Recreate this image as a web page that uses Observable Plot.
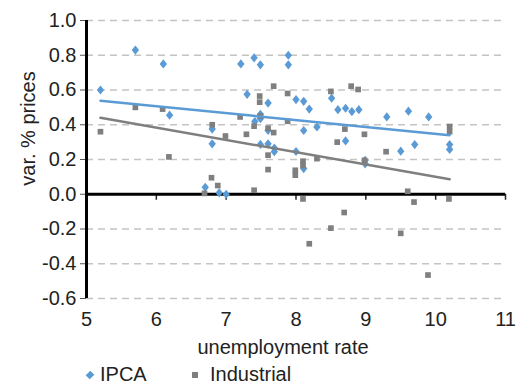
<!DOCTYPE html>
<html><head><meta charset="utf-8">
<script src="https://cdn.jsdelivr.net/npm/d3@7"></script>
<script src="https://cdn.jsdelivr.net/npm/@observablehq/plot@0.6"></script>
<style>
body{margin:0;background:#fff;font-family:"Liberation Sans",Arial,sans-serif;}
#wrap{position:relative;width:522px;height:385px;overflow:hidden;}
#legend{position:absolute;left:0;top:0;width:522px;height:385px;font-size:20px;line-height:16px;color:#222;pointer-events:none;}
#legend span{position:absolute;white-space:nowrap;}
</style></head>
<body><div id="wrap"><div id="chart"></div><div id="legend"></div></div>
<script>
const seriesNames = ["IPCA", "Industrial"];
const xLabel = "unemployment rate";
const yLabel = "var. % prices";
const xTicks = [5, 6, 7, 8, 9, 10, 11];
const yTicks = [-0.6, -0.4, -0.2, 0, 0.2, 0.4, 0.6, 0.8, 1.0];

const ipcaX = [5.2, 5.7, 6.1, 6.19, 6.8, 6.8, 6.7, 6.9, 7.0, 7.21, 7.40, 7.49, 7.89, 7.89, 7.30, 7.60, 8.0, 8.11, 8.19, 8.51, 8.60, 8.71, 8.80, 8.90, 7.49, 7.49, 7.41, 7.60, 7.49, 7.60, 7.69, 7.69, 8.11, 8.30, 8.71, 8.0, 8.11, 8.99, 8.99, 9.30, 9.61, 9.90, 9.50, 9.70, 10.2, 10.2];
const ipcaY = [0.60, 0.83, 0.75, 0.455, 0.375, 0.29, 0.04, 0.008, 0.0, 0.75, 0.785, 0.745, 0.80, 0.745, 0.575, 0.525, 0.545, 0.535, 0.49, 0.553, 0.487, 0.495, 0.476, 0.487, 0.46, 0.435, 0.418, 0.367, 0.287, 0.29, 0.266, 0.245, 0.367, 0.387, 0.307, 0.246, 0.148, 0.195, 0.175, 0.445, 0.478, 0.445, 0.248, 0.286, 0.286, 0.258];

const indX = [5.2, 5.7, 6.09, 6.18, 6.8, 6.99, 6.79, 6.88, 6.69, 7.68, 7.88, 7.48, 7.48, 8.50, 8.79, 8.89, 7.20, 7.49, 7.40, 7.29, 7.60, 7.68, 7.88, 8.70, 8.98, 8.59, 7.60, 7.60, 7.99, 7.99, 8.10, 8.10, 8.30, 8.98, 7.40, 8.10, 9.29, 10.2, 10.2, 9.60, 9.69, 10.19, 8.69, 8.50, 8.19, 9.50, 9.89];
const indY = [0.36, 0.50, 0.49, 0.215, 0.40, 0.335, 0.095, 0.05, 0.005, 0.622, 0.58, 0.565, 0.53, 0.592, 0.622, 0.603, 0.445, 0.45, 0.392, 0.345, 0.38, 0.355, 0.42, 0.375, 0.345, 0.30, 0.225, 0.142, 0.11, 0.138, 0.19, 0.165, 0.205, 0.195, 0.023, -0.027, 0.245, 0.39, 0.36, 0.017, -0.045, -0.027, -0.105, -0.195, -0.285, -0.225, -0.465];

const trendX = [5.2, 10.2];
const ipcaTrendY = [0.538, 0.34];
const indTrendY = [0.44, 0.086];

const blue = "#5b9bd5";
const gray = "#7f7f7f";

const ipca = ipcaX.map((x, i) => ({x, y: ipcaY[i]}));
const ind = indX.map((x, i) => ({x, y: indY[i]}));
const ipcaTrend = trendX.map((x, i) => ({x, y: ipcaTrendY[i]}));
const indTrend = trendX.map((x, i) => ({x, y: indTrendY[i]}));

const diamond = {
  draw(ctx, size) {
    const r = Math.sqrt(size / Math.PI);
    const w = r * 0.92, h = r * 1.15;
    ctx.moveTo(0, -h); ctx.lineTo(w, 0); ctx.lineTo(0, h); ctx.lineTo(-w, 0); ctx.closePath();
  }
};

const chart = Plot.plot({
  width: 522, height: 362,
  marginTop: 20, marginBottom: 64, marginLeft: 86, marginRight: 17,
  style: {fontFamily: "'Liberation Sans', Arial, sans-serif", fontSize: "20px", color: "#222", background: "white", overflow: "visible"},
  x: {domain: [5, 11]},
  y: {domain: [-0.6, 1.0]},
  marks: [
    Plot.ruleY(yTicks.filter(d => d !== 0), {stroke: "#c4c4c4", strokeWidth: 1.5, strokeDasharray: "7,5"}),
    Plot.axisY(yTicks, {tickSize: 6, tickPadding: 4, tickFormat: d => d.toFixed(1), label: null, stroke: "#555", fill: "#222"}),
    Plot.axisX(xTicks, {tickSize: 0, tickPadding: 13, label: null, fill: "#222"}),
    Plot.ruleX(xTicks.slice(1), {x: d => d, y1: 0, y2: 0, insetBottom: -6, stroke: "#222", strokeWidth: 1.5}),
    Plot.ruleY([0], {stroke: "#000", strokeWidth: 3}),
    Plot.ruleX([5], {stroke: "#000", strokeWidth: 3}),
    Plot.dot(ipca, {x: "x", y: "y", symbol: diamond, r: 4, fill: blue}),
    Plot.dot(ind, {x: "x", y: "y", symbol: "square", r: 3.2, fill: gray}),
    Plot.line(ipcaTrend, {x: "x", y: "y", stroke: blue, strokeWidth: 2.5}),
    Plot.line(indTrend, {x: "x", y: "y", stroke: gray, strokeWidth: 2.5}),
    Plot.text([xLabel], {text: d => d, frameAnchor: "bottom", lineAnchor: "bottom", textAnchor: "middle", dx: -13, dy: 55, fontSize: 20, fill: "#222"}),
    Plot.text([yLabel], {text: d => d, frameAnchor: "left", textAnchor: "middle", rotate: -90, dx: -58, dy: -31, fontSize: 20, fill: "#222"})
  ]
});
document.getElementById("chart").appendChild(chart);

const legend = document.getElementById("legend");
legend.innerHTML = `
<span style="left:87px;top:372px;width:6px;height:6px;background:${blue};transform:rotate(45deg) scale(0.95,1.1);"></span>
<span style="left:100px;top:366px;">${seriesNames[0]}</span>
<span style="left:192px;top:372px;width:6px;height:6px;background:${gray};"></span>
<span style="left:210px;top:366px;">${seriesNames[1]}</span>`;
</script>
</body></html>
